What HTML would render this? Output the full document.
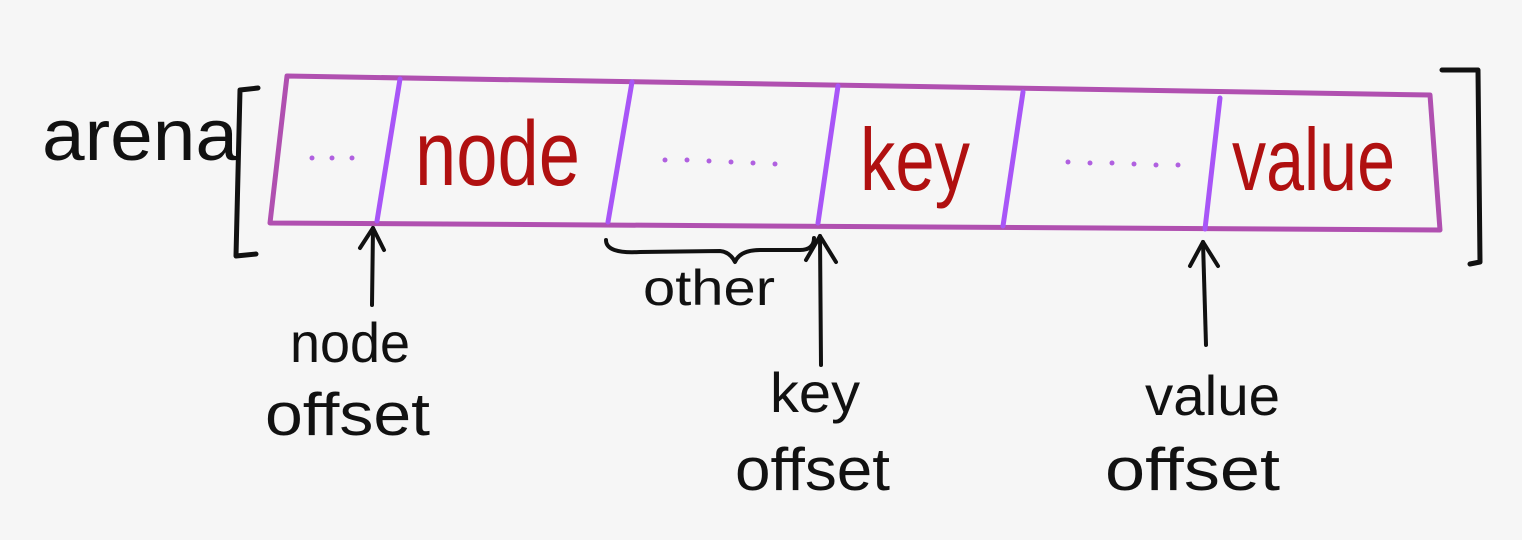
<!DOCTYPE html>
<html><head><meta charset="utf-8"><style>
html,body{margin:0;padding:0;background:#f6f6f6;}
svg{display:block}
text{font-family:"Liberation Sans",sans-serif}
</style></head><body>
<svg width="1522" height="540" viewBox="0 0 1522 540" xmlns="http://www.w3.org/2000/svg">
<rect width="1522" height="540" fill="#f6f6f6"/>
<path d="M258 88 L240 90 L236 256 L256 254" fill="none" stroke="#111" stroke-width="5" stroke-linecap="round" stroke-linejoin="round"/>
<path d="M1442 70 L1478 70 L1480 262 L1470 264" fill="none" stroke="#111" stroke-width="5" stroke-linecap="round" stroke-linejoin="round"/>
<path d="M287 76 L1430 95 L1440 230 L270 223 Z" fill="none" stroke="#b050b0" stroke-width="5" stroke-linejoin="round"/>
<g stroke="#a855f7" stroke-width="5" stroke-linecap="round">
<line x1="400" y1="79" x2="377" y2="221"/>
<line x1="632" y1="82" x2="608" y2="222"/>
<line x1="838" y1="86" x2="818" y2="223"/>
<line x1="1023" y1="92" x2="1003" y2="226"/>
<line x1="1220" y1="98" x2="1205" y2="229"/>
</g>
<g fill="#b060e0">
<circle cx="312" cy="158" r="2.5"/><circle cx="332" cy="158" r="2.5"/><circle cx="352" cy="158" r="2.5"/>
<circle cx="665" cy="160" r="2.5"/><circle cx="687" cy="160" r="2.5"/><circle cx="709" cy="161" r="2.5"/><circle cx="731" cy="162" r="2.5"/><circle cx="753" cy="163" r="2.5"/><circle cx="775" cy="164" r="2.5"/>
<circle cx="1068" cy="162" r="2.5"/><circle cx="1090" cy="163" r="2.5"/><circle cx="1112" cy="163" r="2.5"/><circle cx="1134" cy="164" r="2.5"/><circle cx="1156" cy="165" r="2.5"/><circle cx="1178" cy="165" r="2.5"/>
</g>
<g lengthAdjust="spacingAndGlyphs">
<text x="42" y="160" font-size="72" fill="#111" textLength="196" lengthAdjust="spacingAndGlyphs">arena</text>
<text x="415" y="185" font-size="92" fill="#b01010" textLength="165" lengthAdjust="spacingAndGlyphs">node</text>
<text x="860" y="190" font-size="88" fill="#b01010" textLength="110" lengthAdjust="spacingAndGlyphs">key</text>
<text x="1232" y="190" font-size="88" fill="#b01010" textLength="163" lengthAdjust="spacingAndGlyphs">value</text>
<text x="643" y="305" font-size="50" fill="#111" textLength="132" lengthAdjust="spacingAndGlyphs">other</text>
<text x="290" y="362" font-size="56" fill="#111" textLength="120" lengthAdjust="spacingAndGlyphs">node</text>
<text x="265" y="435" font-size="60" fill="#111" textLength="165" lengthAdjust="spacingAndGlyphs">offset</text>
<text x="770" y="412" font-size="56" fill="#111" textLength="90" lengthAdjust="spacingAndGlyphs">key</text>
<text x="735" y="490" font-size="60" fill="#111" textLength="155" lengthAdjust="spacingAndGlyphs">offset</text>
<text x="1145" y="415" font-size="56" fill="#111" textLength="135" lengthAdjust="spacingAndGlyphs">value</text>
<text x="1105" y="490" font-size="60" fill="#111" textLength="175" lengthAdjust="spacingAndGlyphs">offset</text>
</g>
<g fill="none" stroke="#111" stroke-width="4" stroke-linecap="round" stroke-linejoin="round">
<path d="M372 305 L373 228"/><path d="M360 248 L373 228 L384 250"/>
<path d="M821 365 L820 236"/><path d="M806 260 L820 236 L836 262"/>
<path d="M1206 345 L1203 242"/><path d="M1190 266 L1203 242 L1218 266"/>
<path d="M606 240 Q606 254 640 252 L720 251 Q730 252 735 262 Q740 250 760 250 L800 250 Q814 250 814 238"/>
</g>
</svg>
</body></html>
